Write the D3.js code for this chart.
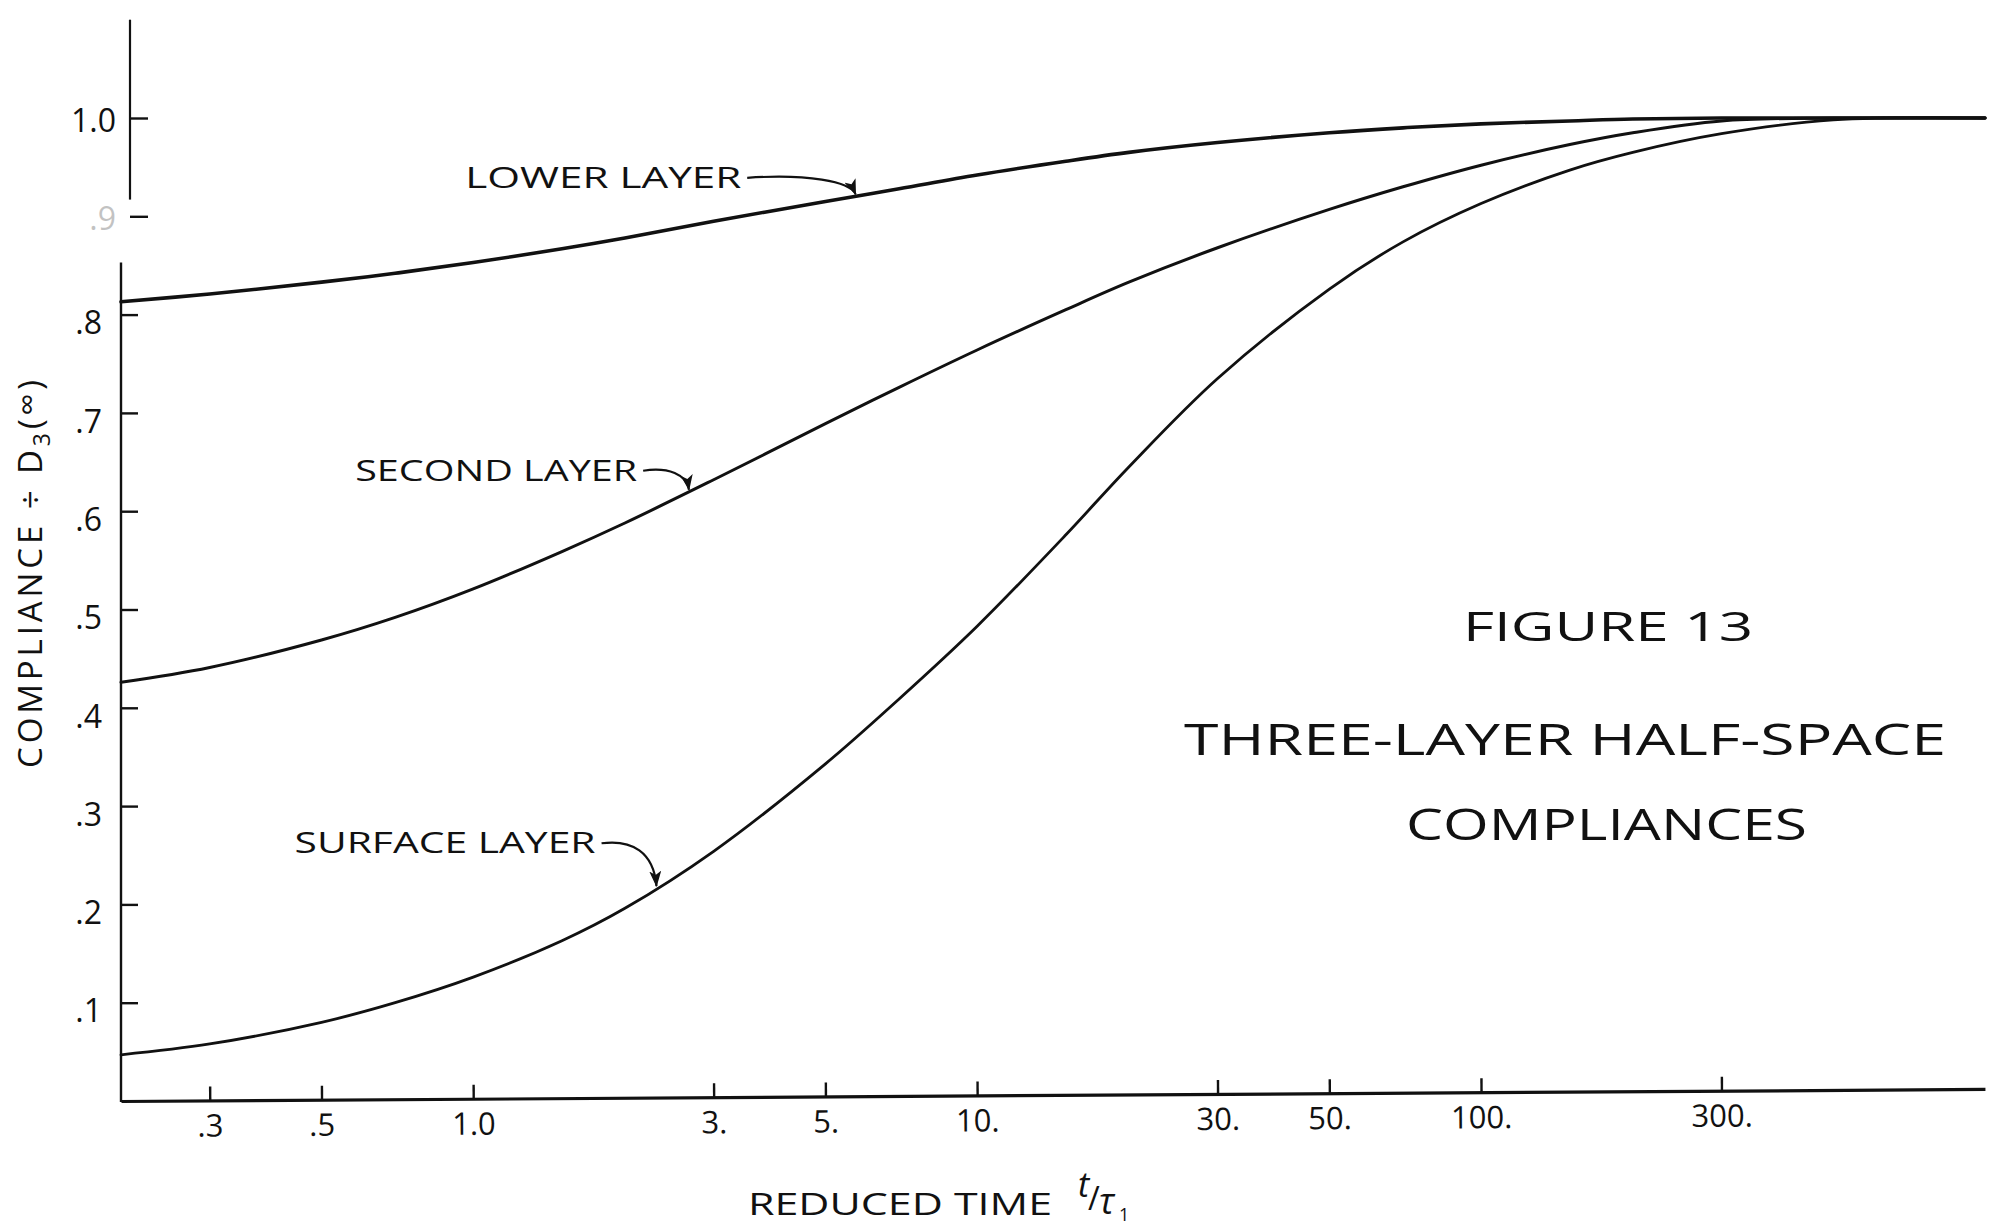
<!DOCTYPE html>
<html>
<head>
<meta charset="utf-8">
<script src="https://cdn.jsdelivr.net/npm/d3@7"></script>
<style>
  body { margin: 0; background: #fff; }
  svg { display: block; }
  text { font-family: "Open Sans", "DejaVu Sans", sans-serif; fill: #111; }
</style>
</head>
<body>
<div id="container"></div>
<script>
// reduced time t/tau
var times = [0.2, 0.3, 0.5, 0.7, 1, 1.5, 2, 3, 5, 7, 10, 15, 20, 30, 50, 70, 100, 150, 200, 300, 500, 1000];

// compliance / D3(inf) for each layer
var lowerLayer   = [0.813, 0.821, 0.833, 0.842, 0.853, 0.867, 0.878, 0.895, 0.915, 0.928, 0.942, 0.956, 0.965, 0.975, 0.985, 0.990, 0.994, 0.997, 0.999, 1.0, 1.0, 1.0];
var secondLayer  = [0.426, 0.441, 0.469, 0.492, 0.521, 0.559, 0.588, 0.632, 0.689, 0.726, 0.764, 0.805, 0.833, 0.868, 0.907, 0.930, 0.952, 0.973, 0.985, 0.997, 1.0, 1.0];
var surfaceLayer = [0.047, 0.058, 0.080, 0.100, 0.126, 0.163, 0.196, 0.254, 0.343, 0.409, 0.483, 0.576, 0.645, 0.735, 0.826, 0.874, 0.913, 0.947, 0.965, 0.984, 0.998, 1.0];

var xTicks = [0.3, 0.5, 1, 3, 5, 10, 30, 50, 100, 300];
var xTickLabels = [".3", ".5", "1.0", "3.", "5.", "10.", "30.", "50.", "100.", "300."];
var yTicksUpper = [1.0, 0.9];
var yTicksLower = [0.8, 0.7, 0.6, 0.5, 0.4, 0.3, 0.2, 0.1];

// curve labels: text, where the text starts (t, value), where the arrow points (t on curve)
var labelNames = ["LOWER LAYER", "SECOND LAYER", "SURFACE LAYER"];
var labelStartT = [0.964, 0.583, 0.442];
var labelBaseV = [0.929, 0.631, 0.252];
var arrowTipT = [5.74, 2.68, 2.31];

const width = 1993;
const height = 1225;

const container = d3.select("div#container");
const svg = container.append("svg")
    .attr("width", width)
    .attr("height", height);

//----------------------------SCALES----------------------------//
const xScale = d3.scaleLog().domain([0.2, 1000]).range([121, 1985]);
const yScale = d3.scaleLinear().domain([0, 1]).range([1101, 118]);

//-----------------------------AXES-----------------------------//
const fmtY = function (d) { return d === 1 ? "1.0" : "." + Math.round(d * 10); };

// upper piece of the y axis (drawn a little to the right, as in the scan)
const yUpper = svg.append("g")
    .attr("transform", "translate(130,0)")
    .call(d3.axisLeft(yScale).tickValues(yTicksUpper).tickSize(-18).tickSizeOuter(0)
      .tickPadding(14).tickFormat(fmtY));
yUpper.select(".domain").remove();
yUpper.append("line")
    .attr("x1", 0).attr("x2", 0)
    .attr("y1", yScale(1.1)).attr("y2", yScale(0.917))
    .attr("stroke", "#111").attr("stroke-width", 2.2);

const yLower = svg.append("g")
    .attr("transform", "translate(121,0)")
    .call(d3.axisLeft(yScale).tickValues(yTicksLower).tickSize(-17).tickSizeOuter(0)
      .tickPadding(19).tickFormat(fmtY));
yLower.select(".domain").remove();
yLower.append("line")
    .attr("x1", 0).attr("x2", 0)
    .attr("y1", yScale(0.853)).attr("y2", yScale(0) + 1)
    .attr("stroke", "#111").attr("stroke-width", 2.4);

svg.selectAll(".tick line").attr("stroke", "#111").attr("stroke-width", 2.4);
svg.selectAll(".tick text")
    .style("font-size", "32px")
    .attr("fill", "#111");
yLower.selectAll(".tick text").attr("dy", "0.6em");
yUpper.selectAll(".tick text").attr("dy", "0.42em");
// the .9 label is almost gone in the original
yUpper.selectAll(".tick text").filter(function (d) { return d === 0.9; }).attr("opacity", 0.25);

// x axis, slightly tilted like the scanned sheet
const xAxis = svg.append("g")
    .attr("transform", "translate(0," + yScale(0) + ") rotate(-0.37," + xScale(0.2) + ",0)")
    .call(d3.axisBottom(xScale).tickValues(xTicks).tickSize(-14).tickSizeOuter(0)
      .tickPadding(14).tickFormat(function (d, i) { return xTickLabels[i]; }));
xAxis.select(".domain").attr("stroke", "#111").attr("stroke-width", 3.2);
xAxis.selectAll(".tick line").attr("stroke", "#111").attr("stroke-width", 2.4);
xAxis.selectAll(".tick text").style("font-size", "31px");

//----------------------------LINES-----------------------------//
const line = d3.line()
    .x(function (d) { return xScale(d.t); })
    .y(function (d) { return yScale(d.v); })
    .curve(d3.curveCatmullRom.alpha(0.5));

const series = [
  { id: "lower", values: lowerLayer, w: 3.6 },
  { id: "second", values: secondLayer, w: 3.0 },
  { id: "surface", values: surfaceLayer, w: 2.8 }
];

svg.selectAll("path.layer")
    .data(series)
    .enter()
    .append("path")
    .attr("class", "layer")
    .attr("fill", "none")
    .attr("stroke", "#111")
    .attr("stroke-width", function (d) { return d.w; })
    .attr("stroke-linecap", "round")
    .attr("d", function (d) {
      return line(times.map(function (t, i) { return { t: t, v: d.values[i] }; }));
    });

//---------------------------LABELS-----------------------------//
svg.append("defs").append("marker")
    .attr("id", "arrow")
    .attr("viewBox", "0 0 16 12")
    .attr("refX", 15).attr("refY", 6)
    .attr("markerWidth", 16).attr("markerHeight", 12)
    .attr("markerUnits", "userSpaceOnUse")
    .attr("orient", "auto")
    .append("path")
    .attr("d", "M0,0 L16,6 L0,12 L4,6 Z")
    .attr("fill", "#111");

const labelWidths = [276, 282, 301];

function interpValue(vals, t) {
  // value of a series at t, between the read points (log t)
  for (var i = 1; i < times.length; i++) {
    if (t <= times[i]) {
      var f = (Math.log(t) - Math.log(times[i - 1])) / (Math.log(times[i]) - Math.log(times[i - 1]));
      return vals[i - 1] + f * (vals[i] - vals[i - 1]);
    }
  }
  return vals[vals.length - 1];
}

labelNames.forEach(function (name, i) {
  var x0 = xScale(labelStartT[i]);
  var y0 = yScale(labelBaseV[i]);
  svg.append("text")
      .attr("x", x0).attr("y", y0)
      .attr("textLength", labelWidths[i])
      .attr("lengthAdjust", "spacingAndGlyphs")
      .style("font-size", "29px")
      .text(name);

  var sx = x0 + labelWidths[i] + 6;
  var sy = y0 - 10;
  var tx = xScale(arrowTipT[i]);
  var ty = yScale(interpValue(series[i].values, arrowTipT[i])) - 2;
  var dx = tx - sx;
  var p = d3.path();
  p.moveTo(sx, sy);
  p.bezierCurveTo(sx + dx * 0.55, sy - 4, tx - dx * 0.05, sy + (ty - sy) * 0.2, tx, ty);
  svg.append("path")
      .attr("d", p.toString())
      .attr("fill", "none")
      .attr("stroke", "#111")
      .attr("stroke-width", 2.2)
      .attr("marker-end", "url(#arrow)");
});

// y axis title
const yTitle = svg.append("text")
    .attr("transform", "translate(42,574) rotate(-90)")
    .attr("text-anchor", "middle")
    .attr("textLength", 388)
    .attr("lengthAdjust", "spacing")
    .style("font-size", "33px");
yTitle.append("tspan").text("COMPLIANCE ÷ D");
yTitle.append("tspan").attr("dy", 8).style("font-size", "23px").text("3");
yTitle.append("tspan").attr("dy", -8).text("(");
yTitle.append("tspan").attr("dy", -4).style("font-size", "31px").text("∞");
yTitle.append("tspan").attr("dy", 4).text(")");

// x axis title
svg.append("text")
    .attr("x", 748).attr("y", 1215)
    .attr("textLength", 304)
    .attr("lengthAdjust", "spacingAndGlyphs")
    .style("font-size", "31px")
    .text("REDUCED  TIME");
svg.append("text")
    .attr("x", 1078).attr("y", 1197)
    .style("font-size", "34px").style("font-style", "italic")
    .text("t");
svg.append("text")
    .attr("x", 1088).attr("y", 1210)
    .style("font-size", "32px")
    .text("/");
svg.append("text")
    .attr("x", 1099).attr("y", 1214)
    .style("font-size", "36px").style("font-style", "italic")
    .text("τ");
svg.append("text")
    .attr("x", 1119).attr("y", 1221)
    .style("font-size", "18px")
    .text("1");

// figure title block
const titles = [
  { text: "FIGURE 13", x: 1463, y: 641, w: 290, size: 40 },
  { text: "THREE-LAYER  HALF-SPACE", x: 1184, y: 755, w: 762, size: 44 },
  { text: "COMPLIANCES", x: 1406, y: 840, w: 401, size: 44 }
];
svg.selectAll("text.title")
    .data(titles)
    .enter()
    .append("text")
    .attr("class", "title")
    .attr("x", function (d) { return d.x; })
    .attr("y", function (d) { return d.y; })
    .attr("textLength", function (d) { return d.w; })
    .attr("lengthAdjust", "spacingAndGlyphs")
    .style("font-size", function (d) { return d.size + "px"; })
    .text(function (d) { return d.text; });
</script>
</body>
</html>
